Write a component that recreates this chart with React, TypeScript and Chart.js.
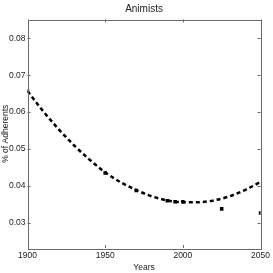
import React, { useEffect, useRef } from "react";
import { Chart, registerables } from "chart.js";
Chart.register(...registerables);

const title = "Animists";
const xTitle = "Years";
const yTitle = "% of Adherents";
const dataYears = [1900, 1950, 1970, 1990, 1995, 2000, 2025, 2050];
const dataValues = [0.0657, 0.0435, 0.0388, 0.036, 0.0357, 0.0357, 0.0338, 0.0327];
const fitYears = [1900, 1910, 1920, 1930, 1940, 1950, 1960, 1970, 1980, 1990, 2000, 2010, 2020, 2030, 2040, 2050];
const fitValues = [0.0657, 0.0603, 0.0554, 0.051, 0.0471, 0.0437, 0.041, 0.0389, 0.0372, 0.0361, 0.0356, 0.0356, 0.0361, 0.0372, 0.0389, 0.0411];
const xTicks = [1900, 1950, 2000, 2050];
const yTicks = [0.03, 0.04, 0.05, 0.06, 0.07, 0.08];
const xMin = 1900, xMax = 2050, yMin = 0.0232, yMax = 0.0851;

const FONT = "'Liberation Sans Narrow', 'Liberation Sans', Arial, sans-serif";

const boxPlugin = {
  id: "box",
  afterDraw(chart: any) {
    const { ctx, chartArea: a, scales } = chart;
    ctx.save();
    ctx.strokeStyle = "#6a6a6a";
    ctx.lineWidth = 1;
    ctx.strokeRect(Math.round(a.left) + 0.5, Math.round(a.top) + 0.5, Math.round(a.right - a.left), Math.round(a.bottom - a.top));
    const t = 3;
    ctx.beginPath();
    for (const v of xTicks) {
      const x = Math.round(scales.x.getPixelForValue(v)) + 0.5;
      ctx.moveTo(x, a.bottom); ctx.lineTo(x, a.bottom - t);
      ctx.moveTo(x, a.top); ctx.lineTo(x, a.top + t);
    }
    for (const v of yTicks) {
      const y = Math.round(scales.y.getPixelForValue(v)) + 0.5;
      ctx.moveTo(a.left, y); ctx.lineTo(a.left + t, y);
      ctx.moveTo(a.right, y); ctx.lineTo(a.right - t, y);
    }
    ctx.stroke();
    ctx.fillStyle = "#222";
    ctx.font = "10px " + FONT;
    ctx.textAlign = "center";
    ctx.textBaseline = "middle";
    ctx.fillText(title, (a.left + a.right) / 2, a.top - 10);
    ctx.font = "8.5px " + FONT;
    ctx.translate(6, (a.top + a.bottom) / 2);
    ctx.rotate(-Math.PI / 2);
    ctx.fillText(yTitle, 0, 0);
    ctx.restore();
  },
};

export default function App() {
  const ref = useRef<HTMLCanvasElement>(null);
  useEffect(() => {
    document.body.style.margin = "0";
    const chart = new Chart(ref.current!, {
      type: "scatter",
      data: {
        datasets: [
          {
            type: "line",
            data: fitYears.map((x, i) => ({ x, y: fitValues[i] })),
            borderColor: "#000",
            borderWidth: 2.5,
            borderDash: [4, 3],
            pointRadius: 0,
            tension: 0.4,
            cubicInterpolationMode: "monotone",
          } as any,
          {
            data: dataYears.map((x, i) => ({ x, y: dataValues[i] })),
            backgroundColor: "#000",
            borderColor: "#000",
            pointStyle: "rect",
            pointRadius: 2.5,
            borderWidth: 0,
          },
        ],
      },
      options: {
        animation: false,
        responsive: false,
        layout: { padding: { top: 19.5, right: 10, left: 0, bottom: 0 } },
        plugins: { legend: { display: false }, tooltip: { enabled: false }, title: { display: false } },
        scales: {
          x: {
            type: "linear",
            min: xMin,
            max: xMax,
            afterBuildTicks: (s: any) => { s.ticks = xTicks.map((v) => ({ value: v })); },
            afterFit: (s: any) => { s.height = 25; },
            grid: { display: false, drawTicks: false },
            border: { display: false },
            ticks: { color: "#222", font: { size: 8.5, family: FONT }, padding: 3, maxRotation: 0, callback: (v: any) => String(v) },
            title: { display: true, text: xTitle, color: "#222", font: { size: 8.5, family: FONT }, padding: { top: 0, bottom: 0 } },
          },
          y: {
            type: "linear",
            min: yMin,
            max: yMax,
            afterBuildTicks: (s: any) => { s.ticks = yTicks.map((v) => ({ value: v })); },
            afterFit: (s: any) => { s.width = 27.5; },
            grid: { display: false, drawTicks: false },
            border: { display: false },
            ticks: { color: "#222", font: { size: 8.5, family: FONT }, padding: 2, callback: (v: any) => Number(v).toFixed(2) },
            title: { display: false },
          },
        },
      },
      plugins: [boxPlugin],
    } as any);
    return () => chart.destroy();
  }, []);
  return <canvas ref={ref} width={273} height={273} style={{ display: "block" }} />;
}
